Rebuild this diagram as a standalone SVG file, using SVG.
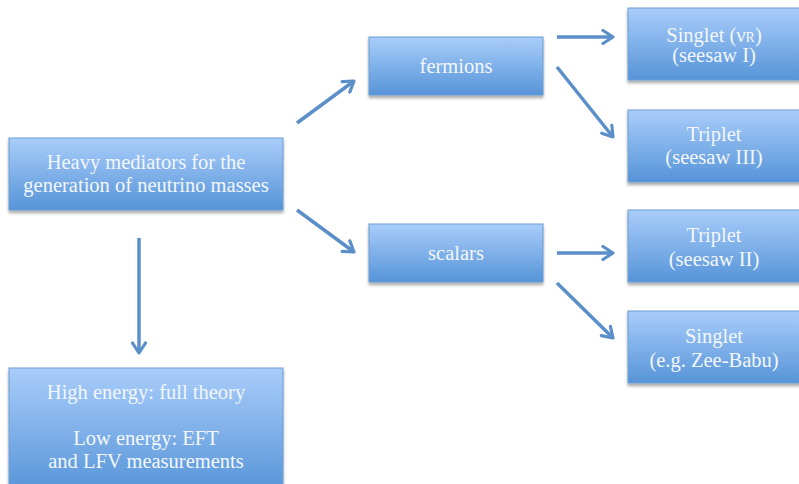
<svg xmlns="http://www.w3.org/2000/svg" width="799" height="484" viewBox="0 0 799 484">
<defs>
<linearGradient id="g" x1="0" y1="0" x2="0" y2="1">
<stop offset="0" stop-color="#a9cdfa"/>
<stop offset="1" stop-color="#5694d8"/>
</linearGradient>
<filter id="sh" x="-10%" y="-10%" width="120%" height="130%">
<feDropShadow dx="0" dy="2.5" stdDeviation="1.5" flood-color="#000" flood-opacity="0.35"/>
</filter>
<marker id="ah" viewBox="0 0 14 16" refX="12" refY="8" markerWidth="14" markerHeight="16" markerUnits="userSpaceOnUse" orient="auto">
<path d="M2,1.5 L12,8 L2,14.5" fill="none" stroke="#5b8fc9" stroke-width="3.2" stroke-linecap="round" stroke-linejoin="round"/>
</marker>
</defs>
<style>
.box{fill:url(#g);stroke:#6c9dd2;stroke-width:1;filter:url(#sh)}
.t{font-family:"Liberation Serif","Times New Roman",serif;font-size:20.5px;fill:#f3f7fc;text-anchor:middle}
.c{stroke:#5b8fc9;stroke-width:3.5;fill:none;marker-end:url(#ah)}
</style>
<rect width="799" height="484" fill="#fff"/>
<g id="connectors">
<line class="c" x1="297" y1="123" x2="354" y2="81"/>
<line class="c" x1="297" y1="210" x2="354" y2="252"/>
<line class="c" x1="139" y1="238" x2="139" y2="353"/>
<line class="c" x1="557" y1="37" x2="613" y2="37"/>
<line class="c" x1="557" y1="67" x2="613" y2="137"/>
<line class="c" x1="557" y1="253" x2="613" y2="253"/>
<line class="c" x1="557" y1="283" x2="613" y2="338"/>
</g>
<g id="main">
<rect class="box" x="9" y="138" width="274" height="72"/>
<text class="t" x="146" y="169">Heavy mediators for the</text>
<text class="t" x="146" y="192">generation of neutrino masses</text>
</g>
<g id="fermions">
<rect class="box" x="369" y="37" width="174" height="58"/>
<text class="t" x="456" y="73">fermions</text>
</g>
<g id="scalars">
<rect class="box" x="369" y="224" width="174" height="58"/>
<text class="t" x="456" y="260">scalars</text>
</g>
<g id="singlet-nuR">
<rect class="box" x="628" y="8" width="175" height="72"/>
<text class="t" x="714" y="42">Singlet (ν<tspan font-size="14">R</tspan>)</text>
<text class="t" x="714" y="62">(seesaw I)</text>
</g>
<g id="triplet-III">
<rect class="box" x="628" y="110" width="175" height="72"/>
<text class="t" x="714" y="141">Triplet</text>
<text class="t" x="714" y="164">(seesaw III)</text>
</g>
<g id="triplet-II">
<rect class="box" x="628" y="210" width="175" height="72"/>
<text class="t" x="714" y="242">Triplet</text>
<text class="t" x="714" y="266">(seesaw II)</text>
</g>
<g id="singlet-zee">
<rect class="box" x="628" y="311" width="175" height="72"/>
<text class="t" x="714" y="343">Singlet</text>
<text class="t" x="714" y="367">(e.g. Zee-Babu)</text>
</g>
<g id="bottom">
<rect class="box" x="9" y="368" width="274" height="125"/>
<text class="t" x="146" y="399">High energy: full theory</text>
<text class="t" x="146" y="445">Low energy: EFT</text>
<text class="t" x="146" y="468">and LFV measurements</text>
</g>
</svg>
